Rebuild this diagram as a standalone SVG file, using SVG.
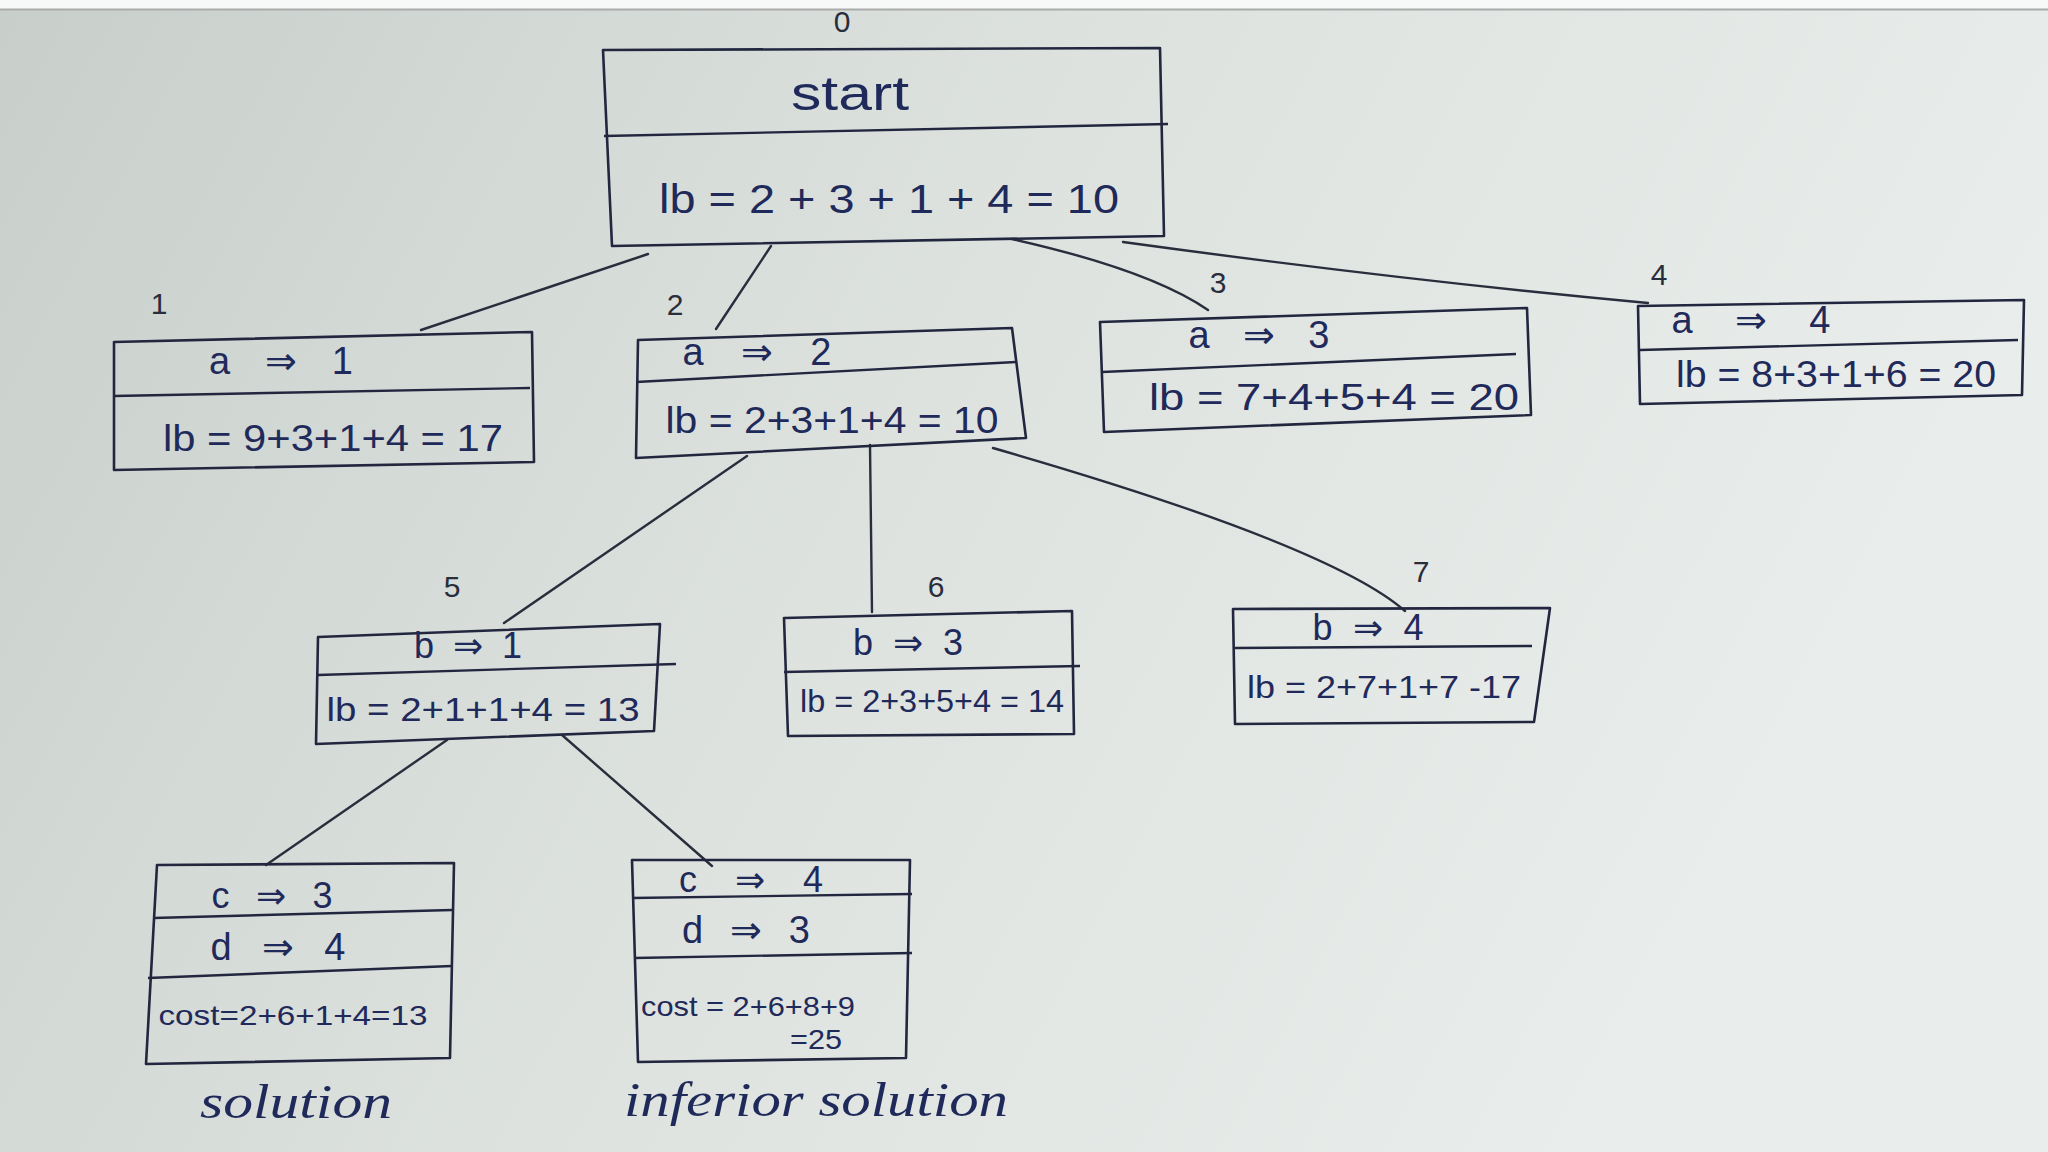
<svg xmlns="http://www.w3.org/2000/svg" width="2048" height="1152" viewBox="0 0 2048 1152">
<defs>
<linearGradient id="paper" x1="0" y1="0" x2="1" y2="0.3">
<stop offset="0" stop-color="#c8cfcb"/>
<stop offset="0.5" stop-color="#dde2df"/>
<stop offset="1" stop-color="#e9edeb"/>
</linearGradient>
<style>
.box{fill:none;stroke:#22273f;stroke-width:2.6;stroke-linejoin:round}
.div{fill:none;stroke:#22273f;stroke-width:2.4}
.edge{fill:none;stroke:#2a2d3c;stroke-width:2.4;stroke-linecap:round}
text{font-family:"Liberation Sans","DejaVu Sans",sans-serif;fill:#1f2a5a;text-anchor:middle}
.h{font-size:38px}
.t{font-size:36px}
.m{font-size:34px}
.n{font-size:32px}
.s{font-size:28px}
.big{font-size:48px}
.num{font-size:30px;fill:#2a2d3c}
.cap{font-size:48px;font-family:"Liberation Serif",serif;font-style:italic}
</style>
</defs>
<rect x="0" y="0" width="2048" height="1152" fill="url(#paper)"/>
<rect x="0" y="0" width="2048" height="9" fill="#f7f8f8"/>
<line x1="0" y1="9.5" x2="2048" y2="9.5" stroke="#a9acab" stroke-width="2"/>

<g id="connectors">
<path class="edge" d="M648,254 L421,330"/>
<path class="edge" d="M771,246 L716,329"/>
<path class="edge" d="M1012,239 Q1150,270 1208,310"/>
<path class="edge" d="M1123,242 Q1400,280 1648,303"/>
<path class="edge" d="M747,456 L504,623"/>
<path class="edge" d="M870,445 L872,612"/>
<path class="edge" d="M993,448 Q1330,545 1405,611"/>
<path class="edge" d="M447,740 L266,865"/>
<path class="edge" d="M562,735 L712,866"/>
</g>

<g id="node0">
<text class="num" x="842" y="32">0</text>
<path class="box" d="M603,50 L1160,48 L1164,236 L612,246 Z"/>
<path class="div" d="M604,136 L1168,124"/>
<text class="big" x="850" y="110" textLength="118" lengthAdjust="spacingAndGlyphs">start</text>
<text x="889" y="213" font-size="40" textLength="460" lengthAdjust="spacingAndGlyphs">lb = 2 + 3 + 1 + 4 = 10</text>
</g>

<g id="node1">
<text class="num" x="159" y="314">1</text>
<path class="box" d="M114,342 L532,332 L534,462 L114,470 Z"/>
<path class="div" d="M114,396 L530,388"/>
<text class="h" x="281" y="374" textLength="144" lengthAdjust="spacing">a ⇒ 1</text>
<text class="t" x="333" y="451" textLength="340" lengthAdjust="spacingAndGlyphs">lb = 9+3+1+4 = 17</text>
</g>

<g id="node2">
<text class="num" x="675" y="315">2</text>
<path class="box" d="M638,340 L1012,328 L1026,438 L636,458 Z"/>
<path class="div" d="M636,382 L1016,362"/>
<text class="h" x="757" y="365" textLength="149" lengthAdjust="spacing">a ⇒ 2</text>
<text class="t" x="832" y="433" textLength="333" lengthAdjust="spacingAndGlyphs">lb = 2+3+1+4 = 10</text>
</g>

<g id="node3">
<text class="num" x="1218" y="293">3</text>
<path class="box" d="M1100,322 L1527,308 L1531,415 L1104,432 Z"/>
<path class="div" d="M1102,372 L1516,354"/>
<text class="h" x="1259" y="348" textLength="141" lengthAdjust="spacing">a ⇒ 3</text>
<text class="t" x="1334" y="410" textLength="370" lengthAdjust="spacingAndGlyphs">lb = 7+4+5+4 = 20</text>
</g>

<g id="node4">
<text class="num" x="1659" y="285">4</text>
<path class="box" d="M1638,306 L2024,300 L2022,395 L1640,404 Z"/>
<path class="div" d="M1640,350 L2018,340"/>
<text class="h" x="1751" y="333" textLength="159" lengthAdjust="spacing">a ⇒ 4</text>
<text class="t" x="1836" y="387" textLength="320" lengthAdjust="spacingAndGlyphs">lb = 8+3+1+6 = 20</text>
</g>

<g id="node5">
<text class="num" x="452" y="597">5</text>
<path class="box" d="M318,637 L660,624 L654,731 L316,744 Z"/>
<path class="div" d="M318,675 L676,664"/>
<text class="t" x="468" y="658" textLength="108" lengthAdjust="spacing">b ⇒ 1</text>
<text class="m" x="483" y="721" textLength="313" lengthAdjust="spacingAndGlyphs">lb = 2+1+1+4 = 13</text>
</g>

<g id="node6">
<text class="num" x="936" y="597">6</text>
<path class="box" d="M784,618 L1072,611 L1074,734 L788,736 Z"/>
<path class="div" d="M784,672 L1080,666"/>
<text class="t" x="908" y="655" textLength="110" lengthAdjust="spacing">b ⇒ 3</text>
<text class="n" x="932" y="712" textLength="264" lengthAdjust="spacingAndGlyphs">lb = 2+3+5+4 = 14</text>
</g>

<g id="node7">
<text class="num" x="1421" y="582">7</text>
<path class="box" d="M1233,609 L1550,608 L1534,722 L1235,724 Z"/>
<path class="div" d="M1235,648 L1532,646"/>
<text class="t" x="1368" y="640" textLength="111" lengthAdjust="spacing">b ⇒ 4</text>
<text class="n" x="1384" y="698" textLength="274" lengthAdjust="spacingAndGlyphs">lb = 2+7+1+7 -17</text>
</g>

<g id="node8">
<path class="box" d="M157,865 L454,863 L450,1058 L146,1064 Z"/>
<path class="div" d="M153,918 L452,910"/>
<path class="div" d="M148,978 L452,966"/>
<text class="t" x="272" y="908" textLength="121" lengthAdjust="spacing">c ⇒ 3</text>
<text class="h" x="278" y="960" textLength="135" lengthAdjust="spacing">d ⇒ 4</text>
<text class="s" x="293" y="1025" textLength="269" lengthAdjust="spacingAndGlyphs">cost=2+6+1+4=13</text>
<text class="cap" x="296" y="1118" textLength="192" lengthAdjust="spacingAndGlyphs">solution</text>
</g>

<g id="node9">
<path class="box" d="M632,860 L910,860 L906,1058 L638,1062 Z"/>
<path class="div" d="M632,898 L912,894"/>
<path class="div" d="M634,958 L912,953"/>
<text class="t" x="751" y="892" textLength="144" lengthAdjust="spacing">c ⇒ 4</text>
<text class="h" x="746" y="943" textLength="128" lengthAdjust="spacing">d ⇒ 3</text>
<text class="s" x="748" y="1016" textLength="214" lengthAdjust="spacingAndGlyphs">cost = 2+6+8+9</text>
<text class="s" x="816" y="1049" textLength="52" lengthAdjust="spacingAndGlyphs">=25</text>
<text class="cap" x="816" y="1116" textLength="384" lengthAdjust="spacingAndGlyphs">inferior solution</text>
</g>
</svg>
